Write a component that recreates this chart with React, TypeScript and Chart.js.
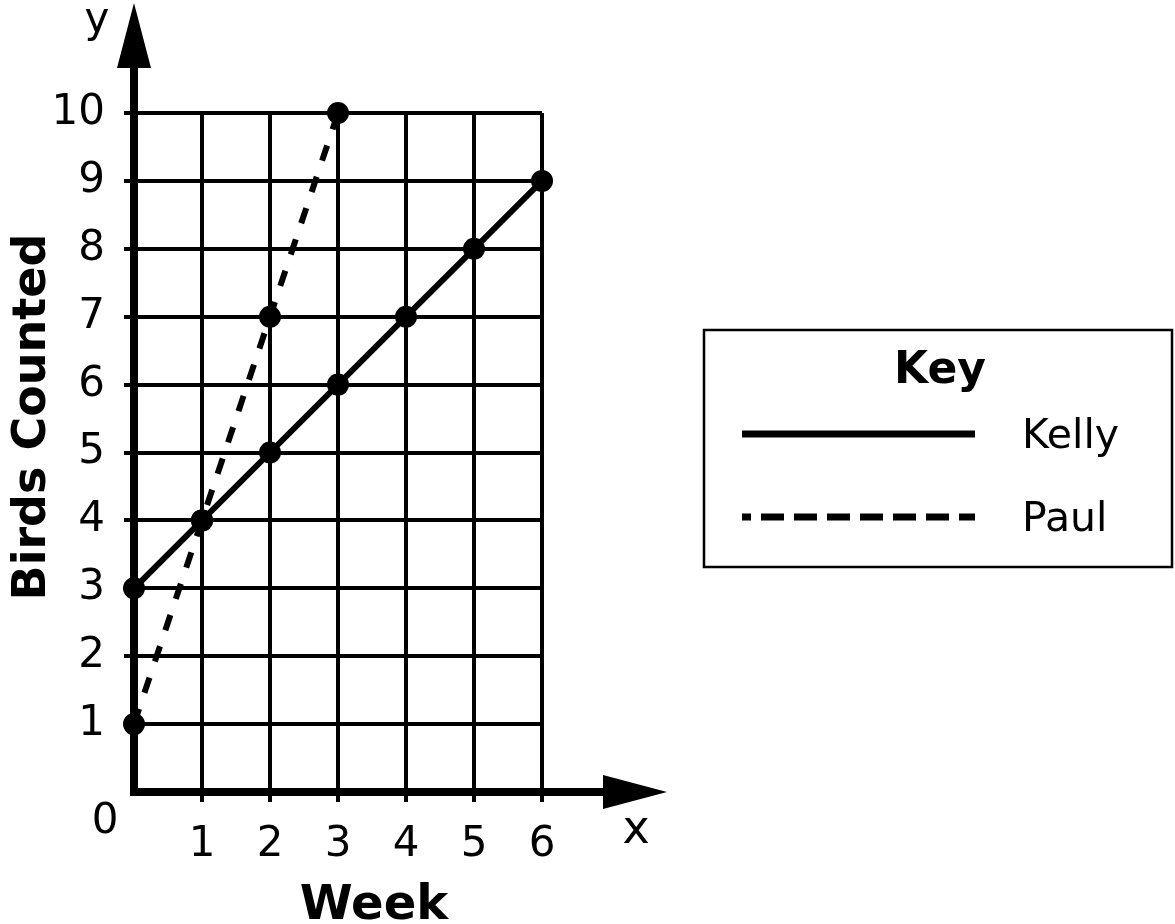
import React, { useEffect, useRef } from 'react';
import { Chart, registerables } from 'chart.js';

Chart.register(...registerables);

// ---- data ----
const kellyWeeks = [0, 1, 2, 3, 4, 5, 6];
const kellyBirds = [3, 4, 5, 6, 7, 8, 9];
const paulWeeks = [0, 1, 2, 3];
const paulBirds = [1, 4, 7, 10];
const seriesNames = ['Kelly', 'Paul'];
const xTickLabels = ['', '1', '2', '3', '4', '5', '6'];
const yTickLabels = ['', '1', '2', '3', '4', '5', '6', '7', '8', '9', '10'];
const xTitle = 'Week';
const yTitle = 'Birds Counted';
const legendTitle = 'Key';
const originLabel = '0';
const xAxisLetter = 'x';
const yAxisLetter = 'y';

const FONT = '"DejaVu Sans", Verdana, sans-serif';

const decorPlugin = {
  id: 'decor',
  afterDraw(chart: any) {
    const { ctx, chartArea, scales } = chart;
    const xs = scales.x;
    const ys = scales.y;
    const x0 = xs.getPixelForValue(0);
    const y0 = ys.getPixelForValue(0);
    const top = chartArea.top;
    const right = chartArea.right;
    ctx.save();
    ctx.fillStyle = '#000';
    ctx.strokeStyle = '#000';
    ctx.lineCap = 'butt';
    // axis extensions
    ctx.lineWidth = 8;
    ctx.beginPath();
    ctx.moveTo(x0, top + 2);
    ctx.lineTo(x0, top - 50);
    ctx.stroke();
    ctx.beginPath();
    ctx.moveTo(right - 2, y0);
    ctx.lineTo(right + 66, y0);
    ctx.stroke();
    // corner fill
    ctx.fillRect(x0 - 4, y0 - 4, 8, 8);
    // arrows
    ctx.beginPath();
    ctx.moveTo(x0, top - 110);
    ctx.lineTo(x0 - 17, top - 45);
    ctx.lineTo(x0 + 17, top - 45);
    ctx.closePath();
    ctx.fill();
    ctx.beginPath();
    ctx.moveTo(right + 125, y0);
    ctx.lineTo(right + 61, y0 - 17);
    ctx.lineTo(right + 61, y0 + 17);
    ctx.closePath();
    ctx.fill();

    // letters
    ctx.font = `42px ${FONT}`;
    ctx.textAlign = 'center';
    ctx.textBaseline = 'alphabetic';
    ctx.fillText(originLabel, x0 - 29, y0 + 41);
    ctx.fillText(yAxisLetter, x0 - 37, top - 81);
    ctx.font = `46px ${FONT}`;
    ctx.fillText(xAxisLetter, right + 94, y0 + 51);

    // axis titles
    ctx.font = `bold 48px ${FONT}`;
    ctx.fillText(xTitle, 374, 919);
    ctx.save();
    ctx.translate(45, 417);
    ctx.rotate(-Math.PI / 2);
    ctx.font = `bold 46px ${FONT}`;
    ctx.fillText(yTitle, 0, 0);
    ctx.restore();

    // legend box
    const bx = 704, by = 330, bw = 468, bh = 237;
    ctx.lineWidth = 2.5;
    ctx.strokeRect(bx, by, bw, bh);
    ctx.font = `bold 44px ${FONT}`;
    ctx.textAlign = 'center';
    ctx.fillText(legendTitle, 940, 383);
    const ds = chart.data.datasets;
    const rows = [434, 517];
    ctx.textAlign = 'left';
    ctx.font = `41px ${FONT}`;
    ds.forEach((d: any, i: number) => {
      const yy = rows[i];
      ctx.save();
      ctx.lineWidth = 7;
      if (d.borderDash && d.borderDash.length) {
        ctx.setLineDash([23, 10]);
        ctx.lineDashOffset = 14;
      }
      ctx.beginPath();
      ctx.moveTo(742, yy);
      ctx.lineTo(975, yy);
      ctx.stroke();
      ctx.restore();
      ctx.fillText(d.label, 1022, yy + 14);
    });
    ctx.restore();
  },
};

export default function App() {
  const ref = useRef<HTMLCanvasElement | null>(null);
  useEffect(() => {
    if (!ref.current) return;
    const tickColor = (c: any) => (c.tick && c.tick.value === 0 ? 'rgba(0,0,0,0)' : '#000');
    const chart = new Chart(ref.current, {
      type: 'line',
      data: {
        datasets: [
          {
            label: seriesNames[0],
            data: kellyWeeks.map((w, i) => ({ x: w, y: kellyBirds[i] })),
            borderColor: '#000',
            backgroundColor: '#000',
            borderWidth: 6,
            pointRadius: 11,
            pointBackgroundColor: '#000',
            pointBorderWidth: 0,
            tension: 0,
            clip: false as any,
          },
          {
            label: seriesNames[1],
            data: paulWeeks.map((w, i) => ({ x: w, y: paulBirds[i] })),
            borderColor: '#000',
            backgroundColor: '#000',
            borderWidth: 6,
            borderDash: [16, 17],
            pointRadius: 11,
            pointBackgroundColor: '#000',
            pointBorderWidth: 0,
            tension: 0,
            clip: false as any,
          },
        ],
      },
      options: {
        responsive: false,
        animation: false,
        layout: { padding: { top: 113, right: 633, left: 0, bottom: 0 } },
        plugins: { legend: { display: false }, tooltip: { enabled: false } },
        scales: {
          x: {
            type: 'linear',
            min: 0,
            max: 6,
            afterFit: (s: any) => { s.height = 132; },
            ticks: {
              stepSize: 1,
              autoSkip: false,
              maxRotation: 0,
              color: '#000',
              font: { family: FONT, size: 42 },
              padding: 18,
              callback: (_v: any, i: number) => xTickLabels[i],
            },
            grid: { color: '#000', lineWidth: 4, tickLength: 10, tickColor, tickWidth: 4 },
            border: { display: true, color: '#000', width: 8 },
          },
          y: {
            type: 'linear',
            min: 0,
            max: 10,
            afterFit: (s: any) => { s.width = 134; },
            ticks: {
              stepSize: 1,
              autoSkip: false,
              color: '#000',
              font: { family: FONT, size: 42 },
              padding: 19,
              callback: (_v: any, i: number) => yTickLabels[i],
            },
            grid: { color: '#000', lineWidth: 4, tickLength: 10, tickColor, tickWidth: 4 },
            border: { display: true, color: '#000', width: 8 },
          },
        },
      },
      plugins: [decorPlugin],
    });
    return () => chart.destroy();
  }, []);
  return (
    <div style={{ position: 'fixed', left: 0, top: 0, width: 1175, height: 924, background: '#fff' }}>
      <canvas ref={ref} width={1175} height={924} style={{ display: 'block' }} />
    </div>
  );
}
